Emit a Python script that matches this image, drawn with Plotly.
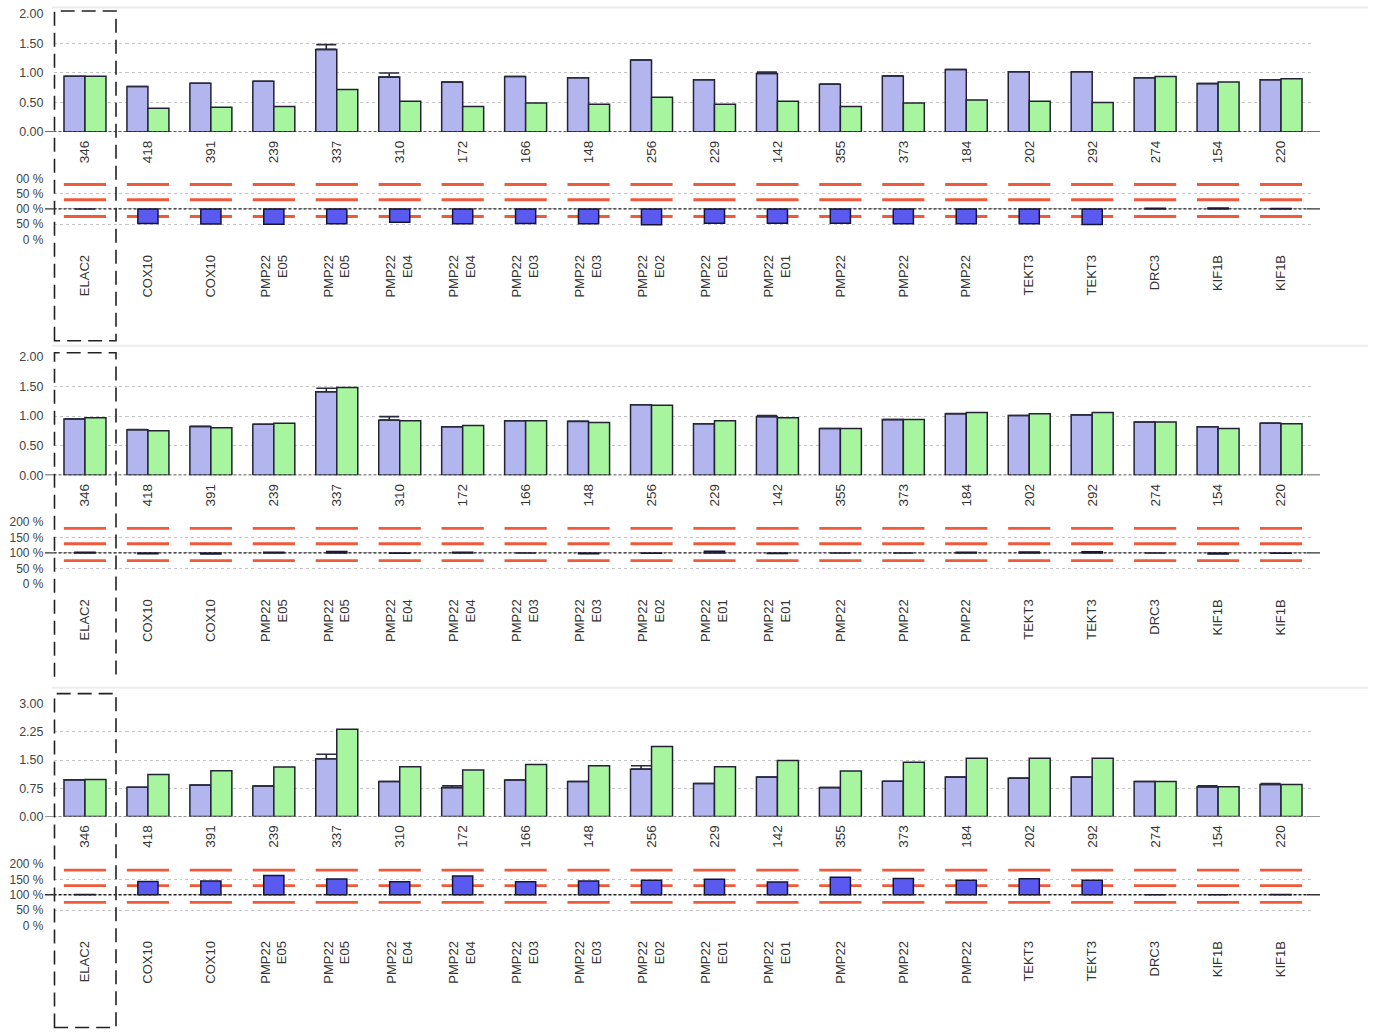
import plotly.graph_objects as go

W, H = 1378, 1035

# ---------------- data ----------------
amplicons = ["346", "418", "391", "239", "337", "310", "172", "166", "148", "256",
             "229", "142", "355", "373", "184", "202", "292", "274", "154", "220"]
genes = ["ELAC2", "COX10", "COX10", "PMP22<br>E05", "PMP22<br>E05", "PMP22<br>E04",
         "PMP22<br>E04", "PMP22<br>E03", "PMP22<br>E03", "PMP22<br>E02", "PMP22<br>E01",
         "PMP22<br>E01", "PMP22", "PMP22", "PMP22", "TEKT3", "TEKT3", "DRC3", "KIF1B", "KIF1B"]

ref1 = [0.944, 0.77, 0.826, 0.86, 1.40, 0.93, 0.845, 0.94, 0.92, 1.22,
        0.885, 0.99, 0.81, 0.95, 1.06, 1.02, 1.02, 0.92, 0.82, 0.885]
smp1 = [0.944, 0.40, 0.42, 0.43, 0.72, 0.52, 0.43, 0.49, 0.47, 0.59,
        0.47, 0.52, 0.43, 0.49, 0.54, 0.52, 0.50, 0.94, 0.845, 0.90]
err1 = [0, 0, 0, 0, 0.08, 0.07, 0, 0, 0, 0, 0, 0.025, 0, 0, 0, 0, 0, 0, 0, 0]

ref2 = [0.95, 0.77, 0.825, 0.86, 1.41, 0.93, 0.82, 0.92, 0.91, 1.19,
        0.87, 0.99, 0.79, 0.94, 1.04, 1.01, 1.02, 0.90, 0.82, 0.88]
smp2 = [0.97, 0.75, 0.80, 0.88, 1.48, 0.92, 0.84, 0.92, 0.89, 1.18,
        0.92, 0.97, 0.79, 0.94, 1.06, 1.04, 1.06, 0.90, 0.79, 0.87]
err2 = [0, 0, 0, 0, 0.06, 0.06, 0, 0, 0, 0, 0, 0.02, 0, 0, 0, 0, 0, 0, 0, 0]

ref3 = [0.976, 0.78, 0.84, 0.81, 1.535, 0.93, 0.77, 0.97, 0.93, 1.26,
        0.88, 1.05, 0.77, 0.94, 1.05, 1.02, 1.05, 0.93, 0.79, 0.85]
smp3 = [0.985, 1.12, 1.215, 1.32, 2.32, 1.325, 1.24, 1.38, 1.35, 1.86,
        1.325, 1.49, 1.21, 1.44, 1.55, 1.55, 1.55, 0.93, 0.79, 0.855]
err3 = [0, 0, 0, 0, 0.12, 0, 0.05, 0, 0, 0.09, 0, 0, 0, 0, 0, 0, 0, 0, 0.03, 0.03]

thresholds = [180, 130, 75]

ticks_2 = [0, 0.5, 1.0, 1.5, 2.0]
ticks_2_text = ["0.00", "0.50", "1.00", "1.50", "2.00"]
ticks_3 = [0, 0.75, 1.5, 2.25, 3.0]
ticks_3_text = ["0.00", "0.75", "1.50", "2.25", "3.00"]
pct_ticks = [0, 50, 100, 150, 200]
pct_text_clipped = ["0 %", "50 %", "00 %", "50 %", "00 %"]
pct_text = ["0 %", "50 %", "100 %", "150 %", "200 %"]

# ---------------- styling ----------------
BLUE = "#b3b6ee"
GREEN = "#a8f5a0"
RATIO_BLUE = "#5a5af0"
RED = "#ef5a3a"
OUTLINE = "#222233"
FONT = "Arial, Liberation Sans, sans-serif"

X0_PX, X1_PX = 53.5, 1312.5

# small vertical correction observed between the layout and the captured page
Y_OFF, Y_SCALE = 6.0, 0.987


def fx(px):
    return px / W


def fy(py):
    yf = (py - Y_OFF) / Y_SCALE
    yf = min(max(yf, 0.5), H - 0.5)
    return 1 - yf / H


panels = [
    dict(ref=ref1, smp=smp1, err=err1, bar=(13, 131), ymax=2.0, yt=ticks_2, ytt=ticks_2_text,
         rat=(177.5, 238.5), rtt=pct_text_clipped, box=(10, 340, True)),
    dict(ref=ref2, smp=smp2, err=err2, bar=(356, 474.5), ymax=2.0, yt=ticks_2, ytt=ticks_2_text,
         rat=(521.5, 583), rtt=pct_text, box=(352, 676, False)),
    dict(ref=ref3, smp=smp3, err=err3, bar=(703, 816), ymax=3.0, yt=ticks_3, ytt=ticks_3_text,
         rat=(863.5, 925), rtt=pct_text, box=(693, 1027, True)),
]

fig = go.Figure()
layout = dict(
    width=W, height=H, margin=dict(l=0, r=0, t=0, b=0),
    paper_bgcolor="white", plot_bgcolor="white", showlegend=False,
    barmode="group", bargap=0.333, bargroupgap=0.0,
    font=dict(family=FONT, color="#333333"),
)
shapes = []

xs = list(range(len(amplicons)))

for k, p in enumerate(panels):
    bi = 2 * k + 1
    ri = 2 * k + 2
    bx = "x" if bi == 1 else f"x{bi}"
    by = "y" if bi == 1 else f"y{bi}"
    rx = f"x{ri}"
    ry = f"y{ri}"

    # main bars
    fig.add_trace(go.Bar(
        x=xs, y=p["ref"], xaxis=bx, yaxis=by,
        marker=dict(color=BLUE, line=dict(color=OUTLINE, width=1.5)),
        error_y=dict(type="data", array=p["err"], arrayminus=[0] * len(xs), symmetric=False,
                     color="#2a2a40", thickness=1.6, width=10, visible=True),
    ))
    fig.add_trace(go.Bar(
        x=xs, y=p["smp"], xaxis=bx, yaxis=by,
        marker=dict(color=GREEN, line=dict(color=OUTLINE, width=1.5)),
    ))

    # ratio panel: red threshold segments (drawn between grid and traces)
    for i in xs:
        for t in thresholds:
            shapes.append(dict(type="line", xref=rx, yref=ry, x0=i - 0.335, x1=i + 0.335,
                               y0=t, y1=t, line=dict(color=RED, width=2.8), layer="between"))

    # ratio bars (sample / reference)
    ratio = [s / r * 100 for s, r in zip(p["smp"], p["ref"])]
    fig.add_trace(go.Bar(
        x=xs, y=[v - 100 for v in ratio], base=[100] * len(xs), width=0.32,
        xaxis=rx, yaxis=ry,
        marker=dict(color=RATIO_BLUE, line=dict(color="#15153a", width=1.5)),
    ))

    xdom = [fx(X0_PX), fx(X1_PX)]
    bdom = [fy(p["bar"][1]), fy(p["bar"][0])]
    rdom = [fy(p["rat"][1]), fy(p["rat"][0])]

    common_x = dict(domain=xdom, range=[-0.5, len(xs) - 0.5], showgrid=False, zeroline=False,
                    showline=False, tickmode="array", tickvals=xs, tickangle=-90,
                    ticks="", fixedrange=True)
    layout["xaxis" if bi == 1 else f"xaxis{bi}"] = dict(
        common_x, anchor=by, ticktext=amplicons, ticklabelstandoff=5,
        tickfont=dict(family=FONT, size=13.5, color="#333333"))
    layout[f"xaxis{ri}"] = dict(
        common_x, anchor=ry, ticktext=genes, ticklabelstandoff=12,
        tickfont=dict(family=FONT, size=13, color="#333333"))

    common_y = dict(showgrid=True, gridcolor="#c4c4c4", griddash="dot", gridwidth=1,
                    zeroline=False, showline=False, ticks="", tickmode="array",
                    ticklabelstandoff=9, fixedrange=True)
    layout["yaxis" if bi == 1 else f"yaxis{bi}"] = dict(
        common_y, domain=bdom, anchor=bx, range=[0, p["ymax"]],
        tickvals=p["yt"], ticktext=p["ytt"],
        tickfont=dict(family=FONT, size=12.5, color="#444444"))
    layout[f"yaxis{ri}"] = dict(
        common_y, domain=rdom, anchor=rx, range=[0, 200],
        tickvals=pct_ticks, ticktext=p["rtt"],
        tickfont=dict(family=FONT, size=12, color="#444444"))

    # baseline lines (0 for bars, 100 % for ratio)
    for yref, yv in ((by, 0), (ry, 100)):
        shapes.append(dict(type="line", xref="paper", yref=yref, x0=fx(X0_PX), x1=fx(1307),
                           y0=yv, y1=yv, line=dict(color="#222222", width=1.3, dash="3px,2px"),
                           layer="above"))
        shapes.append(dict(type="line", xref="paper", yref=yref, x0=fx(45), x1=fx(X0_PX),
                           y0=yv, y1=yv, line=dict(color="#333333", width=1.3)))
        shapes.append(dict(type="line", xref="paper", yref=yref, x0=fx(1307), x1=fx(1320),
                           y0=yv, y1=yv, line=dict(color="#333333", width=1.3)))

    # dashed box around the control column
    top, bot, closed = p["box"]
    xl, xr = fx(54.5), fx(116)
    yt_, yb_ = fy(top), fy(bot)
    if closed:
        path = f"M {xl},{yb_} L {xl},{yt_} L {xr},{yt_} L {xr},{yb_} Z"
    else:
        path = f"M {xl},{yb_} L {xl},{yt_} L {xr},{yt_} L {xr},{yb_}"
    shapes.append(dict(type="path", xref="paper", yref="paper", path=path,
                       line=dict(color="#222222", width=1.6, dash="14px,7px"), layer="above"))

# faint separators between the panels
for py in (4, 345, 687):
    shapes.append(dict(type="line", xref="paper", yref="paper", x0=fx(52), x1=fx(1368),
                       y0=fy(py), y1=fy(py), line=dict(color="#ececec", width=2), layer="below"))

layout["shapes"] = shapes
fig.update_layout(**layout)

fig.write_html("out.html", config={"displayModeBar": False},
               post_script="document.body.style.margin='0';document.body.style.overflow='hidden';")
